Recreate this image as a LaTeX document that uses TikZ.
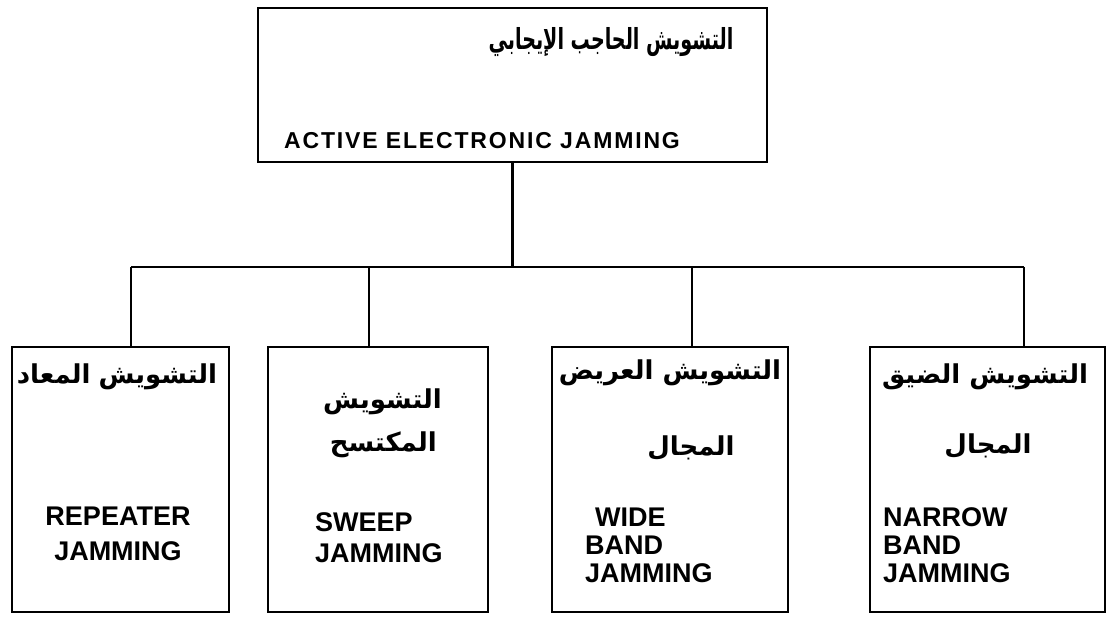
\documentclass[tikz,border=0pt]{standalone}
\usepackage{fontspec}
\setmainfont{Liberation Sans}
\newfontfamily\arabicfont[Script=Arabic]{DejaVu Sans}
\TeXXeTstate=1
\begin{document}
\begin{tikzpicture}[x=1pt,y=-1pt,
  box/.style={draw, line width=2.8pt, inner sep=0pt},
  link/.style={line width=2.4pt},
  en/.style={font=\bfseries\fontsize{27}{28}\selectfont, inner sep=0pt, align=left, anchor=north west},
  arl/.style={font=\arabicfont\bfseries\fontsize{26}{32}\selectfont, inner sep=0pt}]
\useasboundingbox (0,0) rectangle (1107,617);

% boxes
\node[box, minimum width=509pt, minimum height=154pt] (top) at (512.5,85) {};
\node[box, minimum width=217pt, minimum height=265pt] (b1) at (120.5,479.5) {};
\node[box, minimum width=220pt, minimum height=265pt] (b2) at (378,479.5) {};
\node[box, minimum width=236pt, minimum height=265pt] (b3) at (670,479.5) {};
\node[box, minimum width=235pt, minimum height=265pt] (b4) at (987.5,479.5) {};

% top box texts
\node[arl, font=\arabicfont\bfseries\fontsize{29}{34}\selectfont] (tar) at (611,42)
  {\scalebox{0.66}[1]{\beginR التشويش الحاجب الإيجابي\endR}};
\node[en, anchor=north, font=\bfseries\fontsize{23}{28}\selectfont\addfontfeatures{LetterSpace=8}] (ten) at (482,132)
  {ACTIVE ELECTRONIC JAMMING};

% tree connectors
\coordinate (busL) at (131,267);
\coordinate (busR) at (1024,267);
\coordinate (d2) at (369,267);
\coordinate (d3) at (692,267);
\draw[link] (top.south) -- (top.south |- busL);
\draw[link] (busL) -- (busR);
\draw[link] (busL) -- (busL |- b1.north);
\draw[link] (d2) -- (d2 |- b2.north);
\draw[link] (d3) -- (d3 |- b3.north);
\draw[link] (busR) -- (busR |- b4.north);

% repeater jamming
\node[arl] (a1) at (117,377) {\beginR التشويش\hspace{8pt}المعاد\endR};
\node[en, align=center, anchor=north, font=\bfseries\fontsize{27}{35}\selectfont] (e1) at (118,507) {REPEATER\\JAMMING};

% sweep jamming
\node[arl, anchor=east] (a2a) at (442,402) {\beginR التشويش\endR};
\node[arl, anchor=east] (a2b) at (437,445) {\beginR المكتسح\endR};
\node[en, font=\bfseries\fontsize{27}{31}\selectfont] (e2) at (315,512) {SWEEP\\JAMMING};

% wide band jamming
\node[arl] (a3a) at (670,373) {\beginR التشويش العريض\endR};
\node[arl] (a3b) at (691,448) {\beginR المجال\endR};
\node[en] (e3) at (585,508) {\hspace{10pt}WIDE\\BAND\\JAMMING};

% narrow band jamming
\node[arl] (a4a) at (985,377) {\beginR التشويش الضيق\endR};
\node[arl] (a4b) at (988,446) {\beginR المجال\endR};
\node[en] (e4) at (883,507) {NARROW\\BAND\\JAMMING};
\end{tikzpicture}
\end{document}
